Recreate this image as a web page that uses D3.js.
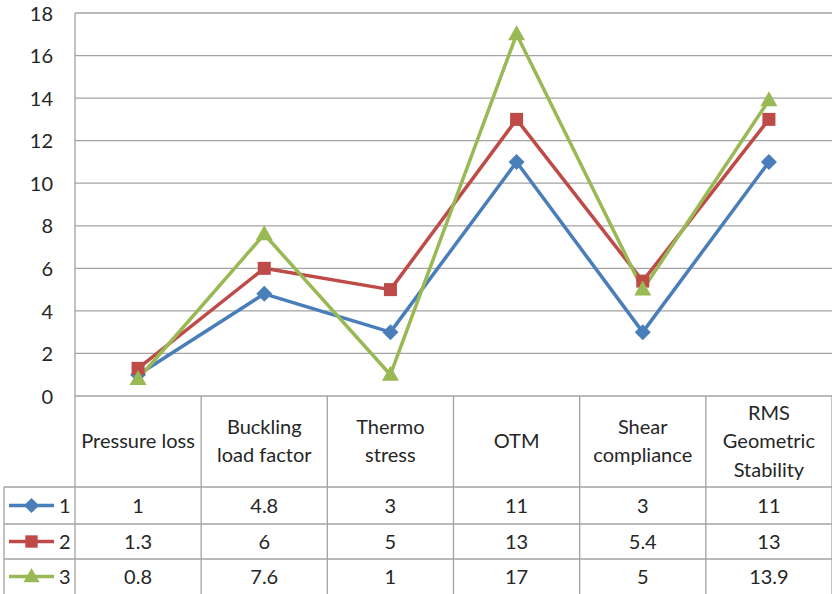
<!DOCTYPE html>
<html><head><meta charset="utf-8">
<script src="https://cdn.jsdelivr.net/npm/d3@7/dist/d3.min.js"></script>
<style>body{margin:0;background:#fff}svg{display:block}text{font-family:Lato,"Open Sans",sans-serif;fill:#262626}</style>
</head><body><svg id="c" width="832" height="594"></svg>
<script>
const categories = [["Pressure loss"],["Buckling","load factor"],["Thermo","stress"],["OTM"],["Shear","compliance"],["RMS","Geometric","Stability"]];
const seriesNames = ["1","2","3"];
const series1 = [1,4.8,3,11,3,11];
const series2 = [1.3,6,5,13,5.4,13];
const series3 = [0.8,7.6,1,17,5,13.9];
const seriesLabels = [["1","4.8","3","11","3","11"],["1.3","6","5","13","5.4","13"],["0.8","7.6","1","17","5","13.9"]];
const yTicks = [0,2,4,6,8,10,12,14,16,18];
const colors = ["#4A7EBB","#BE4B48","#98B954"];
const shapes = ["diamond","square","triangle"];

const svg = d3.select("#c");
const pL = 75, pR = 832, pT = 13, pB = 396;
const fs = "20px";
const x = d3.scaleBand().domain(d3.range(categories.length)).range([pL, pR]).padding(0);
const y = d3.scaleLinear().domain([0,18]).range([pB, pT]);
const grid = "#a3a3a3";

svg.append("g").selectAll("line").data(yTicks).join("line")
  .attr("x1", pL).attr("x2", pR).attr("y1", d=>y(d)).attr("y2", d=>y(d))
  .attr("stroke", grid).attr("stroke-width", 1.3);
const yAxis = d3.axisLeft(y).tickValues(yTicks).tickSize(0).tickPadding(22);
const ga = svg.append("g").attr("transform", `translate(${pL},0)`).call(yAxis);
ga.select(".domain").remove();
ga.selectAll("text").style("font-size",fs).style("font-family","Lato, sans-serif").attr("dy","0.36em").style("fill","#262626");
svg.append("line").attr("x1",pL).attr("x2",pL).attr("y1",pT).attr("y2",594).attr("stroke",grid).attr("stroke-width",1.3);

const rowY = [396, 487, 524, 559, 594];
const tg = svg.append("g");
categories.forEach((c,i)=>{
  const xr = x(i)+x.bandwidth();
  tg.append("line").attr("x1",xr).attr("x2",xr).attr("y1",pB).attr("y2",594).attr("stroke",grid).attr("stroke-width",1.3);
});
[487,524,559].forEach(yy=>{
  tg.append("line").attr("x1",4).attr("x2",pR).attr("y1",yy).attr("y2",yy).attr("stroke",grid).attr("stroke-width",1.3);
});
tg.append("line").attr("x1",4).attr("x2",4).attr("y1",487).attr("y2",594).attr("stroke",grid).attr("stroke-width",1.3);

categories.forEach((lines,i)=>{
  const cx = x(i)+x.bandwidth()/2;
  const n = lines.length, lh = 28.5;
  lines.forEach((t,j)=>{
    tg.append("text").attr("x",cx).attr("y",448 + (j-(n-1)/2)*lh)
      .attr("text-anchor","middle").style("font-size",fs).text(t);
  });
});
const allSeries = [series1, series2, series3];
function marker(g, shape, cx, cy, col, s) {
  if (shape==="diamond") {
    const r = 8*s;
    g.append("path").attr("d",`M${cx},${cy-r}L${cx+r},${cy}L${cx},${cy+r}L${cx-r},${cy}Z`).attr("fill",col);
  } else if (shape==="square") {
    const h = 6.5*s;
    g.append("rect").attr("x",cx-h).attr("y",cy-h).attr("width",2*h).attr("height",2*h).attr("fill",col);
  } else {
    const w = 8.5*s, hh = 15*s;
    g.append("path").attr("d",`M${cx},${cy-hh*0.6}L${cx+w},${cy+hh*0.4}L${cx-w},${cy+hh*0.4}Z`).attr("fill",col);
  }
}
seriesLabels.forEach((labs,si)=>{
  const cy = (rowY[si+1]+rowY[si+2])/2;
  labs.forEach((t,i)=>{
    tg.append("text").attr("x",x(i)+x.bandwidth()/2).attr("y",cy).attr("dy","0.36em")
      .attr("text-anchor","middle").style("font-size",fs).text(t);
  });
  tg.append("line").attr("x1",9).attr("x2",54).attr("y1",cy).attr("y2",cy).attr("stroke",colors[si]).attr("stroke-width",3.5);
  marker(tg, shapes[si], 31.5, cy, colors[si], 0.95);
  tg.append("text").attr("x",59).attr("y",cy).attr("dy","0.36em").style("font-size",fs).text(seriesNames[si]);
});

const line = d3.line().x((d,i)=>x(i)+x.bandwidth()/2).y(d=>y(d));
allSeries.forEach((vals,si)=>{
  svg.append("path").datum(vals).attr("d",line).attr("fill","none")
    .attr("stroke",colors[si]).attr("stroke-width",3.5).attr("stroke-linejoin","round");
});
allSeries.forEach((vals,si)=>{
  const g = svg.append("g");
  vals.forEach((v,i)=>marker(g, shapes[si], x(i)+x.bandwidth()/2, y(v), colors[si], 1));
});
</script></body></html>
